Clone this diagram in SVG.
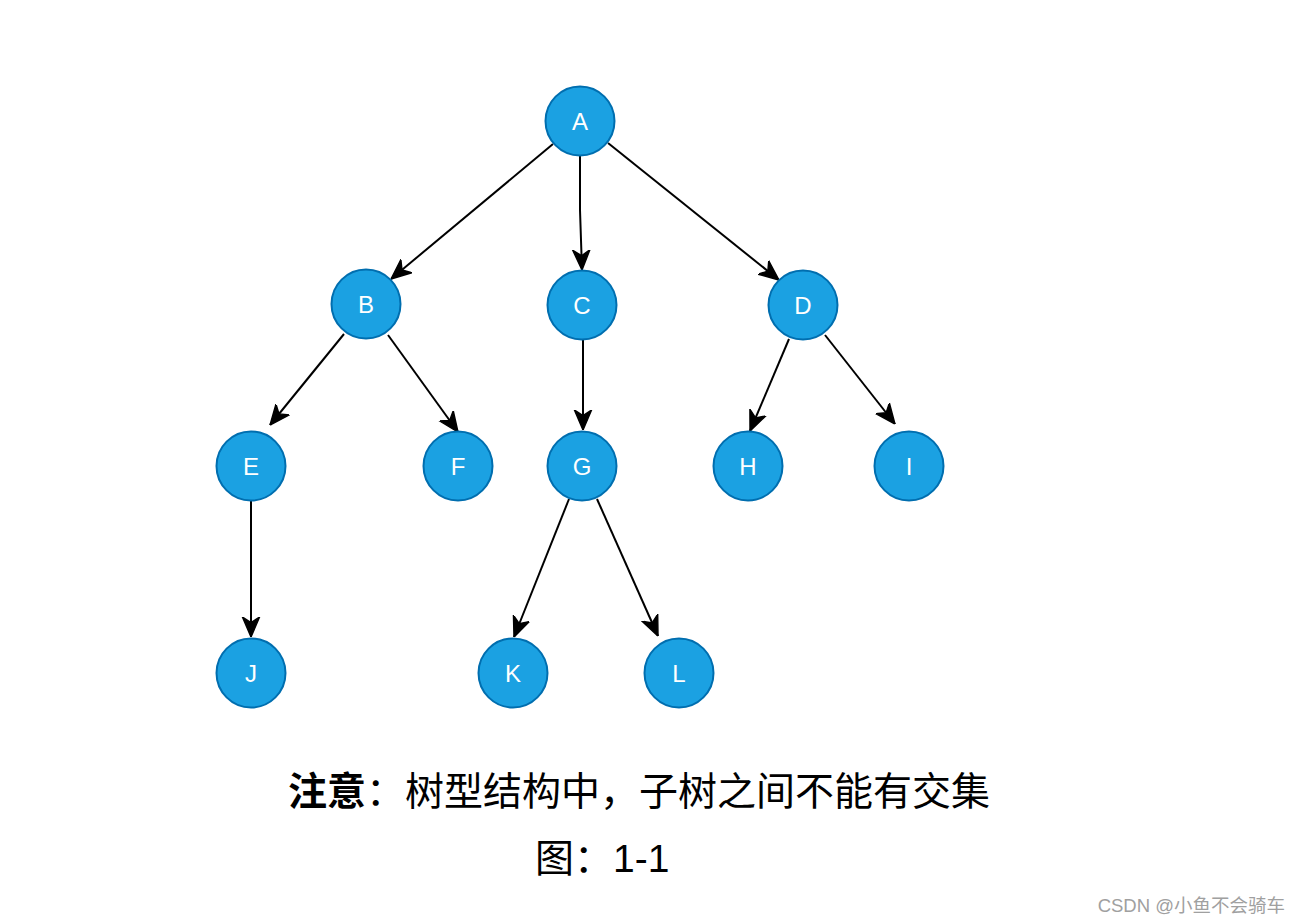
<svg xmlns="http://www.w3.org/2000/svg" width="1300" height="924" viewBox="0 0 1300 924">
<style>
.n circle{fill:#1BA1E2;stroke:#006EAF;stroke-width:2}
.n text{fill:#fff;font-family:"Liberation Sans",Arial,sans-serif;font-size:24px;text-anchor:middle;dominant-baseline:central}
.e path{fill:none;stroke:#000;stroke-width:2;marker-end:url(#arr)}
.t{font-family:"Liberation Sans","Noto Sans CJK SC",sans-serif;fill:#000}
</style>
<defs>
<marker id="arr" markerUnits="userSpaceOnUse" markerWidth="20" markerHeight="20" viewBox="0 0 14 12" refX="14" refY="6" orient="auto">
<path d="M0,0 L14,6 L0,12 L4,6 Z" fill="#000" stroke="#000" stroke-width="1"/>
</marker>
</defs>
<rect width="1300" height="924" fill="#fff"/>
<g id="connectors" class="e">
<path d="M553,144 L391,279"/>
<path d="M580,156 L580,210 L582,270"/>
<path d="M608,143 L779,280"/>
<path d="M344,334 L270,425"/>
<path d="M388,335 L458,432"/>
<path d="M583,340 L583,430"/>
<path d="M789,339 L750,431"/>
<path d="M825,335 L895,424"/>
<path d="M251,501 L251,637"/>
<path d="M569,499 L514,637"/>
<path d="M597,499 L658,636"/>
</g>
<g id="A" class="n"><circle cx="580" cy="121" r="34.5"/><text x="580" y="121">A</text></g>
<g id="B" class="n"><circle cx="366" cy="304" r="34.5"/><text x="366" y="304">B</text></g>
<g id="C" class="n"><circle cx="582" cy="305" r="34.5"/><text x="582" y="305">C</text></g>
<g id="D" class="n"><circle cx="803" cy="305" r="34.5"/><text x="803" y="305">D</text></g>
<g id="E" class="n"><circle cx="251" cy="466" r="34.5"/><text x="251" y="466">E</text></g>
<g id="F" class="n"><circle cx="458" cy="466" r="34.5"/><text x="458" y="466">F</text></g>
<g id="G" class="n"><circle cx="582" cy="466" r="34.5"/><text x="582" y="466">G</text></g>
<g id="H" class="n"><circle cx="748" cy="466" r="34.5"/><text x="748" y="466">H</text></g>
<g id="I" class="n"><circle cx="909" cy="466" r="34.5"/><text x="909" y="466">I</text></g>
<g id="J" class="n"><circle cx="251" cy="673" r="34.5"/><text x="251" y="673">J</text></g>
<g id="K" class="n"><circle cx="513" cy="673" r="34.5"/><text x="513" y="673">K</text></g>
<g id="L" class="n"><circle cx="679" cy="673" r="34.5"/><text x="679" y="673">L</text></g>
<text class="t" x="288" y="805" font-size="39"><tspan font-weight="bold">注意</tspan>：树型结构中，子树之间不能有交集</text>
<text class="t" x="535" y="872" font-size="39">图：1-1</text>
<text class="t" x="1285" y="912" font-size="18.5" text-anchor="end" style="fill:#a0a0a0">CSDN @小鱼不会骑车</text>
</svg>
